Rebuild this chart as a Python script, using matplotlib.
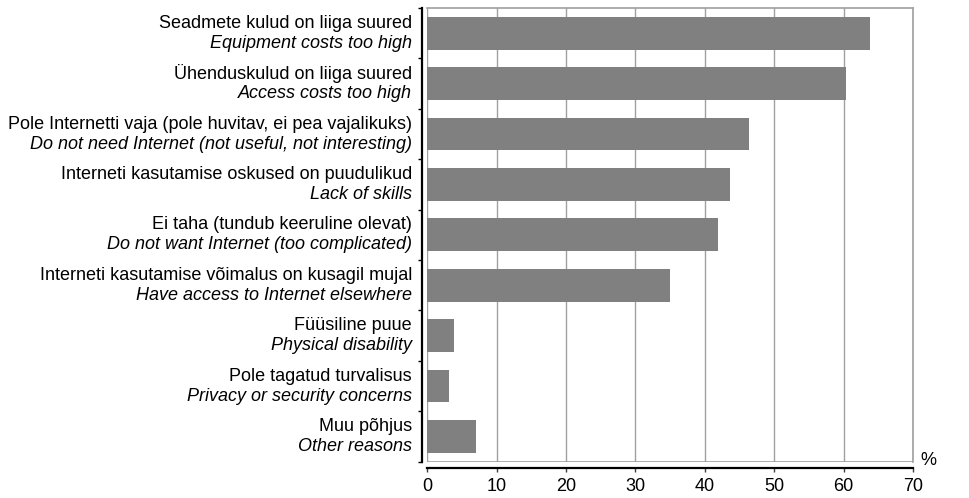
import matplotlib.pyplot as plt
import numpy as np

labels_et = ['Seadmete kulud on liiga suured',
             'Ühenduskulud on liiga suured',
             'Pole Internetti vaja (pole huvitav, ei pea vajalikuks)',
             'Interneti kasutamise oskused on puudulikud',
             'Ei taha (tundub keeruline olevat)',
             'Interneti kasutamise võimalus on kusagil mujal',
             'Füüsiline puue',
             'Pole tagatud turvalisus',
             'Muu põhjus']
labels_en = ['Equipment costs too high',
             'Access costs too high',
             'Do not need Internet (not useful, not interesting)',
             'Lack of skills',
             'Do not want Internet (too complicated)',
             'Have access to Internet elsewhere',
             'Physical disability',
             'Privacy or security concerns',
             'Other reasons']
values = [63.8, 60.3, 46.3, 43.6, 41.9, 35.0, 3.9, 3.2, 7.0]
xticks = [0, 10, 20, 30, 40, 50, 60, 70]

plt.rcParams['font.family'] = ['Liberation Sans', 'DejaVu Sans']
plt.rcParams['font.size'] = 13

fig = plt.figure(figsize=(9.7, 4.98), dpi=100)
ax = fig.add_axes([0.4405, 0.0729, 0.9412 - 0.4405, 0.984 - 0.0729])

n = len(values)
y = np.arange(n)
ax.barh(y, values, height=0.65, color='#808080', zorder=3)
ax.set_ylim(n - 0.5, -0.5)
ax.set_xlim(0, 70)

grey = '#a0a0a0'
ax.set_xticks(xticks)
ax.grid(axis='x', color=grey, linewidth=1, zorder=0)
ax.axvline(0, color=grey, linewidth=1.2, zorder=1)
ax.axhline(n - 0.5, color=grey, linewidth=1.2, zorder=1)
for s in ['top', 'right']:
    ax.spines[s].set_color(grey)
    ax.spines[s].set_linewidth(1.2)
for s in ['left', 'bottom']:
    ax.spines[s].set_color('black')
    ax.spines[s].set_linewidth(1.6)
ax.spines['left'].set_position(('outward', 3.5))
ax.spines['bottom'].set_position(('outward', 4.5))

ax.set_yticks(np.arange(n + 1) - 0.5)
ax.set_yticklabels([])
ax.tick_params(axis='y', direction='out', length=3, width=1, color='black')
ax.tick_params(axis='x', direction='out', length=3, width=1, color='#404040', pad=4)

for i in range(n):
    ax.annotate(labels_et[i], xy=(0, i), xycoords=('axes fraction', 'data'),
                xytext=(-11, 7.2), textcoords='offset points',
                ha='right', va='center')
    ax.annotate(labels_en[i], xy=(0, i), xycoords=('axes fraction', 'data'),
                xytext=(-11, -7.2), textcoords='offset points',
                ha='right', va='center', style='italic')

ax.annotate('%', xy=(1, 0), xycoords='axes fraction', xytext=(11, 1),
            textcoords='offset points', ha='center', va='center')

fig.savefig('out.png', dpi=100)
